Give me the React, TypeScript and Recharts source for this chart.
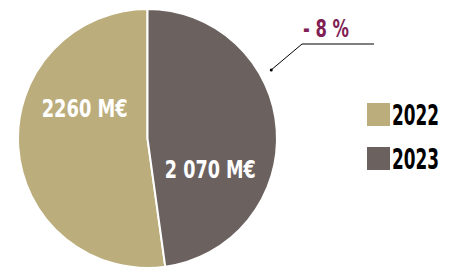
import React from 'react';
import { PieChart, Pie, Cell } from 'recharts';

// chiffres d'affaires (M€)
const years = ['2022', '2023'];
const values = [2260, 2070];
const valueLabels = ['2260 M€', '2 070 M€'];
const labelWidths = [86, 91];
const colors = ['#BCAD7C', '#6B625F'];
const changeLabel = '- 8 %';

const FONT = "'DejaVu Sans Condensed', 'Liberation Sans Narrow', sans-serif";

const W = 452;
const H = 269;
const CX = 147.5;
const CY = 138.5;
const R = 129.5;

const data = years.map((y, i) => ({ name: y, value: values[i], label: valueLabels[i] }));
const total = values.reduce((a, b) => a + b, 0);
// la part 2023 démarre à midi, sens horaire
const startAngle = 90 - (360 * values[1]) / total;

const RAD = Math.PI / 180;

function renderLabel(props: any) {
  const { cx, cy, midAngle, outerRadius, index } = props;
  const a = (midAngle - 30) * RAD;
  const r = outerRadius * 0.54;
  const x = cx + r * Math.cos(a);
  const y = cy - r * Math.sin(a);
  return (
    <text
      x={x}
      y={y + 9}
      fill="#fff"
      textAnchor="middle"
      textLength={labelWidths[index]}
      lengthAdjust="spacingAndGlyphs"
      style={{ fontFamily: FONT, fontWeight: 700, fontSize: 25 }}
    >
      {data[index].label}
    </text>
  );
}

export default function App() {
  // annotation pointant vers la part 2023
  const pa = 29 * RAD;
  const dotX = CX + (R + 12) * Math.cos(pa);
  const dotY = CY - (R + 12) * Math.sin(pa);
  return (
    <div style={{ position: 'absolute', left: 0, top: 0, width: W, height: H, background: '#fff' }}>
      <PieChart width={W} height={H} margin={{ top: 0, right: 0, bottom: 0, left: 0 }}>
        <Pie
          data={data}
          dataKey="value"
          nameKey="name"
          cx={CX}
          cy={CY}
          outerRadius={R}
          startAngle={startAngle}
          endAngle={startAngle - 360}
          stroke="#fff"
          strokeWidth={2}
          label={renderLabel}
          labelLine={false}
          isAnimationActive={false}
        >
          {data.map((d, i) => (
            <Cell key={d.name} fill={colors[i]} />
          ))}
        </Pie>
      </PieChart>
      <svg width={W} height={H} style={{ position: 'absolute', left: 0, top: 0, pointerEvents: 'none' }}>
        {/* légende */}
        {data.map((d, i) => (
          <g key={d.name} transform={`translate(367, ${103 + i * 44})`}>
            <rect x={0} y={0} width={23} height={23} fill={colors[i]} />
            <text
              x={25}
              y={22}
              fill="#000"
              textLength={47}
              lengthAdjust="spacingAndGlyphs"
              style={{ fontFamily: FONT, fontWeight: 700, fontSize: 29 }}
            >
              {d.name}
            </text>
          </g>
        ))}
        <polyline points={`${dotX},${dotY} 302,44 374,44`} fill="none" stroke="#000" strokeWidth={1} />
        <circle cx={dotX} cy={dotY} r={1.5} fill="#000" />
        <text
          x={303}
          y={37}
          fill="#7F1F55"
          textLength={46}
          lengthAdjust="spacingAndGlyphs"
          style={{ fontFamily: FONT, fontWeight: 700, fontSize: 25 }}
        >
          {changeLabel}
        </text>
      </svg>
    </div>
  );
}
